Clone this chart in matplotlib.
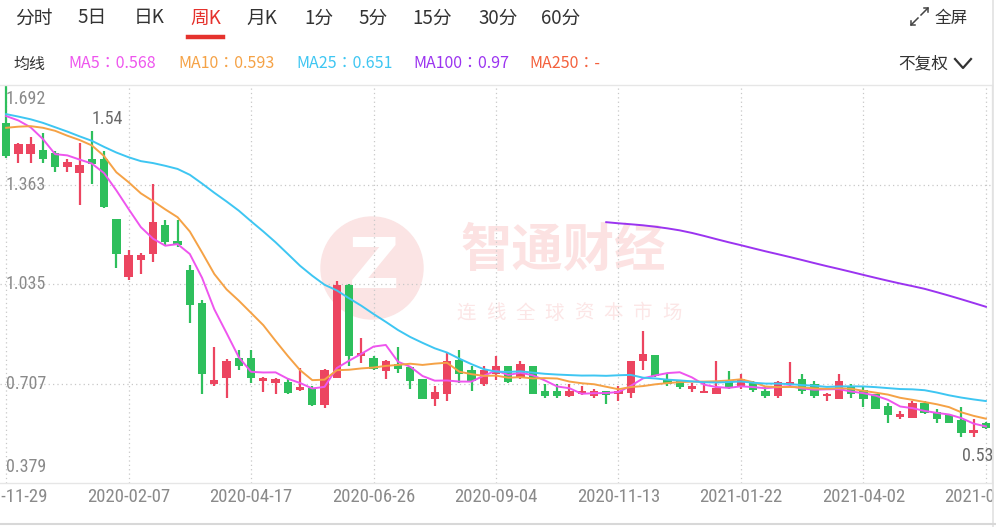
import numpy as np
import pandas as pd
import matplotlib
matplotlib.use('Agg')
import matplotlib.pyplot as plt
from matplotlib import font_manager
from matplotlib.patches import Circle
from matplotlib.lines import Line2D

plt.rcParams['font.family'] = ['Noto Sans CJK SC', 'DejaVu Sans']

# weekly candles, first week 2019-11-29
opens = [1.567, 1.464, 1.464, 1.478, 1.469, 1.420, 1.401, 1.447, 1.447, 1.250,
         1.059, 1.114, 1.136, 1.229, 1.179, 1.081, 0.972, 0.704, 0.726, 0.791,
         0.791, 0.715, 0.709, 0.711, 0.685, 0.693, 0.635, 0.726, 1.032, 0.797,
         0.791, 0.747, 0.773, 0.762, 0.722, 0.655, 0.674, 0.786, 0.753, 0.707,
         0.737, 0.764, 0.726, 0.764, 0.684, 0.682, 0.665, 0.673, 0.665, 0.682,
         0.671, 0.676, 0.783, 0.802, 0.722, 0.715, 0.690, 0.676, 0.671, 0.715,
         0.696, 0.711, 0.682, 0.665, 0.704, 0.722, 0.704, 0.665, 0.655, 0.698,
         0.687, 0.671, 0.633, 0.598, 0.594, 0.644, 0.613, 0.602, 0.587, 0.543,
         0.576]
highs = [1.692, 1.502, 1.521, 1.533, 1.474, 1.449, 1.502, 1.540, 1.474, 1.250,
         1.147, 1.138, 1.365, 1.245, 1.245, 1.097, 0.983, 0.829, 0.788, 0.819,
         0.819, 0.729, 0.726, 0.726, 0.758, 0.698, 0.755, 1.046, 1.037, 0.857,
         0.797, 0.786, 0.827, 0.762, 0.722, 0.700, 0.808, 0.819, 0.766, 0.764,
         0.799, 0.764, 0.780, 0.764, 0.707, 0.704, 0.707, 0.698, 0.690, 0.682,
         0.700, 0.783, 0.879, 0.802, 0.737, 0.720, 0.709, 0.711, 0.780, 0.747,
         0.739, 0.715, 0.698, 0.715, 0.778, 0.739, 0.715, 0.676, 0.739, 0.704,
         0.696, 0.671, 0.644, 0.616, 0.649, 0.649, 0.622, 0.602, 0.631, 0.589,
         0.580]
lows = [1.452, 1.434, 1.434, 1.434, 1.406, 1.406, 1.296, 1.365, 1.285, 1.088,
        1.048, 1.068, 1.108, 1.163, 1.157, 0.906, 0.671, 0.698, 0.660, 0.753,
        0.709, 0.678, 0.671, 0.671, 0.682, 0.633, 0.627, 0.726, 0.764, 0.775,
        0.751, 0.722, 0.742, 0.690, 0.655, 0.633, 0.649, 0.709, 0.682, 0.700,
        0.720, 0.709, 0.722, 0.671, 0.660, 0.660, 0.662, 0.669, 0.660, 0.641,
        0.649, 0.660, 0.753, 0.728, 0.700, 0.690, 0.678, 0.676, 0.671, 0.690,
        0.690, 0.678, 0.660, 0.660, 0.698, 0.671, 0.660, 0.649, 0.655, 0.660,
        0.631, 0.624, 0.578, 0.591, 0.594, 0.607, 0.578, 0.576, 0.532, 0.530,
        0.558]
closes = [1.458, 1.497, 1.497, 1.447, 1.420, 1.438, 1.428, 1.431, 1.289, 1.136,
          1.130, 1.130, 1.239, 1.174, 1.163, 0.966, 0.737, 0.720, 0.782, 0.764,
          0.726, 0.726, 0.722, 0.676, 0.695, 0.635, 0.753, 1.032, 0.797, 0.808,
          0.755, 0.780, 0.755, 0.715, 0.655, 0.678, 0.783, 0.737, 0.715, 0.751,
          0.764, 0.711, 0.773, 0.673, 0.665, 0.665, 0.682, 0.682, 0.682, 0.668,
          0.682, 0.783, 0.805, 0.731, 0.707, 0.696, 0.698, 0.684, 0.693, 0.693,
          0.722, 0.685, 0.665, 0.711, 0.711, 0.682, 0.665, 0.671, 0.715, 0.671,
          0.655, 0.624, 0.602, 0.605, 0.644, 0.609, 0.591, 0.576, 0.545, 0.554,
          0.562]
# closes of the 50 weeks before the chart (only used by the moving averages)
prior_closes = [1.05, 1.10, 1.15, 1.20, 1.25, 1.35, 1.55, 1.68, 1.75, 1.72,
                1.69, 1.70, 1.66, 1.65, 1.67, 1.67, 1.68, 1.66, 1.65, 1.64,
                1.65, 1.60, 1.55, 1.52, 1.50, 1.51, 1.70, 1.72, 1.74, 1.78,
                1.80, 1.82, 1.80, 1.79, 1.60, 1.52, 1.45, 1.40, 1.40, 1.42,
                1.45, 1.46, 1.48, 1.50, 1.52, 1.60, 1.57, 1.61, 1.64, 1.67]

ma_periods = [5, 10, 25, 100, 250]
ma_values = ['0.568', '0.593', '0.651', '0.97', '-']
ma_colors = ['#ee55ee', '#f5a246', '#3ec6f2', '#9b34f0', '#f4603c']
tabs = ['分时', '5日', '日K', '周K', '月K', '1分', '5分', '15分', '30分', '60分']
y_ticks = [0.379, 0.707, 1.035, 1.363, 1.692]
max_label = (7, 1.54, '1.54')
min_label = (79, 0.53, '0.53')

RED = '#ec4560'
GREEN = '#2ebf5c'
W, H = 996, 527

names = {f.name for f in font_manager.fontManager.ttflist}
num_font = 'DejaVu Sans'
for cand in ['Liberation Sans Narrow', 'Roboto Condensed', 'Liberation Sans']:
    if cand in names:
        num_font = cand
        break


def px(x, y):
    return x / W, 1 - y / H


fig = plt.figure(figsize=(W / 100, H / 100), dpi=100)
ax = fig.add_axes([0, 1 - 483 / H, 992 / W, (483 - 85) / H])
ax.set_facecolor('none')

n = len(closes)
x = np.arange(n)
o = np.array(opens); c = np.array(closes)
hi = np.array(highs); lo = np.array(lows)
up = c >= o
cols = np.where(up, RED, GREEN)

# candles
ax.vlines(x, lo, hi, colors=cols, lw=1.6, zorder=2)
ax.bar(x, np.maximum(np.abs(c - o), 0.004), bottom=np.minimum(o, c), width=0.68,
       color=cols, zorder=2.5)

# moving averages
all_close = pd.Series(prior_closes + closes)
for p, col in zip(ma_periods, ma_colors):
    ma = all_close.rolling(p).mean().values[len(prior_closes):]
    ax.plot(x, ma, color=col, lw=1.4, zorder=3)

ax.set_xlim(-0.5, n - 0.5)
ax.set_ylim(y_ticks[0], y_ticks[-1])
ax.set_xticks([]); ax.set_yticks([])
ax.spines['left'].set_visible(False)
for s in ['top', 'bottom', 'right']:
    ax.spines[s].set_color('#e6e6e6')
    ax.spines[s].set_linewidth(1)

grid_kw = dict(color='#c8c8c8', lw=0.9, ls=(0, (1, 2.5)), zorder=1)
for yt in y_ticks[1:-1]:
    ax.axhline(yt, **grid_kw)

dates = pd.date_range('2019-11-29', periods=n, freq='W-FRI')
for i in range(0, n, 10):
    ax.axvline(i, **grid_kw)
    ax.annotate(dates[i].strftime('%Y-%m-%d'), xy=(i, 0), xycoords=('data', 'axes fraction'),
                xytext=(0, -14), textcoords='offset pixels', ha='center', va='center',
                fontsize=13.5, color='#8a8a8a', family=[num_font, 'DejaVu Sans'],
                annotation_clip=False)

for k, yt in enumerate(y_ticks):
    dy = 0
    if k == 0:
        dy = 16
    elif k == len(y_ticks) - 1:
        dy = -14
    ax.annotate('%.3f' % yt, xy=(0, yt), xycoords=('axes fraction', 'data'),
                xytext=(6, dy), textcoords='offset pixels', ha='left', va='center',
                fontsize=13, color='#8a8a8a', family=[num_font, 'DejaVu Sans'],
                annotation_clip=False)

ax.annotate(max_label[2], xy=max_label[:2], xytext=(0, 3), textcoords='offset pixels',
            ha='left', va='bottom', fontsize=13, color='#6a6a6a',
            family=[num_font, 'DejaVu Sans'])
ax.annotate(min_label[2], xy=min_label[:2], xytext=(4, -10), textcoords='offset pixels',
            ha='center', va='top', fontsize=13, color='#6a6a6a',
            family=[num_font, 'DejaVu Sans'], annotation_clip=False)

# watermark
fig.add_artist(Circle((3.72, (H - 268) / 100), 0.51, transform=fig.dpi_scale_trans,
                      color='#fbe4e4', zorder=-2))
fig.text(*px(374, 268), 'Z', ha='center', va='center', fontsize=50, color='white',
         weight='bold', family='DejaVu Sans', zorder=-1)
fig.text(*px(563, 250), '智通财经', ha='center', va='center', fontsize=37,
         color='#fce2e2', weight='bold', zorder=-1)
for j, ch in enumerate('连线全球资本市场'):
    fig.text(*px(466 + j * 29.5, 313), ch, ha='center', va='center', fontsize=14,
             color='#fce6e6', zorder=-1)

# header tabs
tab_x = [34, 92, 149, 206, 262, 319, 373, 432, 498, 561]
for t, tx in zip(tabs, tab_x):
    fig.text(*px(tx, 18), t, ha='center', va='center', fontsize=13.5,
             color='#e5322d' if t == '周K' else '#333333')
fig.add_artist(Line2D([188 / W, 223 / W], [1 - 37 / H, 1 - 37 / H], color='#e5322d', lw=3.2))

fig.text(*px(935, 18), '全屏', ha='left', va='center', fontsize=12, color='#333333')
icon = [[(921, 15), (928, 8)], [(924, 8), (928, 8), (928, 12)],
        [(918, 18), (911, 25)], [(911, 21), (911, 25), (915, 25)]]
for seg in icon:
    xs = [p[0] / W for p in seg]; ys = [1 - p[1] / H for p in seg]
    fig.add_artist(Line2D(xs, ys, color='#444444', lw=1.1))

# moving average legend row
fig.text(*px(13, 64), '均线', ha='left', va='center', fontsize=11.5, color='#333333')
leg_x = [68, 178, 296, 413, 529]
for p, v, col, lx in zip(ma_periods, ma_values, ma_colors, leg_x):
    fig.text(*px(lx, 64), 'MA%d：%s' % (p, v), ha='left', va='center', fontsize=11.5,
             color=col, family=['Noto Sans CJK TC', 'DejaVu Sans'])

fig.text(*px(898, 64), '不复权', ha='left', va='center', fontsize=12, color='#333333')
fig.add_artist(Line2D([955 / W, 963 / W, 971 / W], [1 - 59 / H, 1 - 68 / H, 1 - 59 / H],
                      color='#333333', lw=1.6))

# widget borders
fig.add_artist(Line2D([993 / W, 993 / W], [0, 1], color='#e2e2e2', lw=1.2))
fig.add_artist(Line2D([0, 1], [1 - 524 / H, 1 - 524 / H], color='#d8d8d8', lw=1.5))

fig.savefig('out.png', dpi=100, facecolor='white')
